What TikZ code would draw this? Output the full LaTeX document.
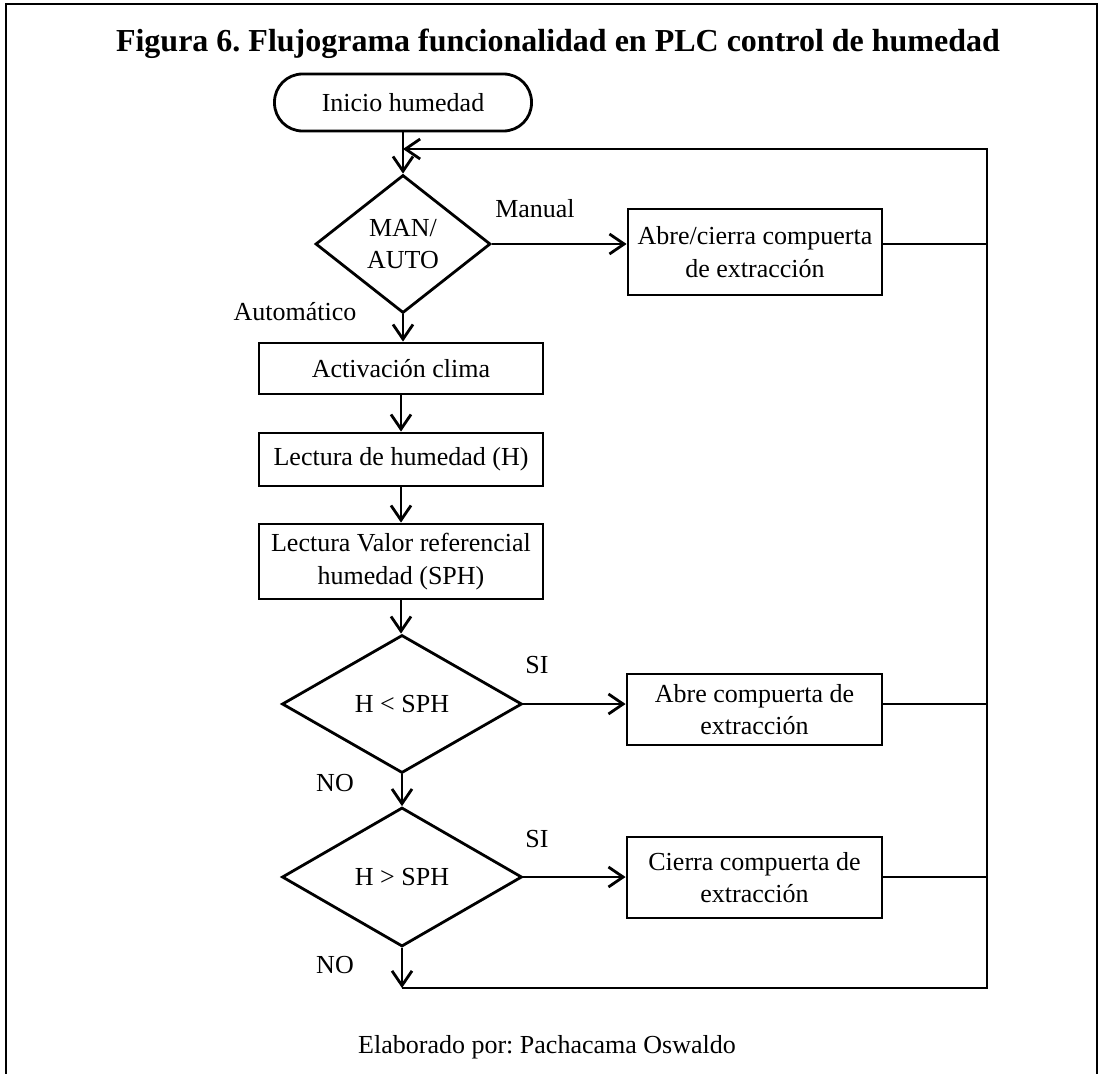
\documentclass[tikz,border=0pt]{standalone}
\usepackage{fontspec}
\setmainfont{Liberation Serif}
\usetikzlibrary{shapes.geometric,arrows.meta,calc}
\frenchspacing

\begin{document}
\begin{tikzpicture}[x=0.75pt,y=-0.75pt,
  line width=2.1pt,
  txt/.style={font=\fontsize{19.5}{24.5}\selectfont, align=center, inner sep=0pt},
  procbox/.style={txt, draw, rectangle},
  decision/.style={txt, draw, diamond, inner sep=0pt},
  terminal/.style={txt, draw, rectangle, rounded corners=21pt},
  lbl/.style={txt},
  flow/.style={-{Straight Barb[length=11pt,width=15pt,line width=2.1pt]}}
]
\useasboundingbox (0,0) rectangle (1099,1074);

% frame (open at the bottom)
\draw[line width=2.2pt] (6,1074) -- (6,4) -- (1097,4) -- (1097,1074);

% title
\node[anchor=base, inner sep=0pt, font=\fontsize{24}{28}\selectfont\bfseries] (title) at (558,52)
  {Figura 6. Flujograma funcionalidad en PLC control de humedad};

% main column
\node[terminal, minimum width=192.75pt, minimum height=42.75pt] (start) at (403,102.5) {Inicio humedad};
\node[decision, minimum width=131.25pt, minimum height=103.5pt] (d1) at (403,244) {MAN/\\AUTO};
\node[procbox, minimum width=213pt, minimum height=38.25pt] (b1) at (401,368.5) {Activación clima};
\node[procbox, minimum width=213pt, minimum height=39.75pt] (b2) at (401,459.5) {Lectura de humedad (H)};
\node[procbox, minimum width=213pt, minimum height=56.25pt] (b3) at (401,561.5) {Lectura Valor referencial\\humedad (SPH)};
\node[decision, minimum width=180pt, minimum height=103.5pt] (d2) at (402,704) {H < SPH};
\node[decision, minimum width=180pt, minimum height=104.25pt] (d3) at (402,877) {H > SPH};

% action boxes
\node[procbox, minimum width=190.5pt, minimum height=64.5pt] (r1) at (755,252) {Abre/cierra compuerta\\de extracción};
\node[procbox, minimum width=191.25pt, minimum height=53.25pt] (r2) at (754.5,709.5) {Abre compuerta de\\extracción};
\node[procbox, minimum width=191.25pt, minimum height=60.75pt] (r3) at (754.5,877.5) {Cierra compuerta de\\extracción};

% branch labels
\node[lbl] (lman) at (535,209) {Manual};
\node[lbl] (lauto) at (295,312) {Automático};
\node[lbl] (lsi1) at (537,665) {SI};
\node[lbl] (lno1) at (335,783) {NO};
\node[lbl] (lsi2) at (537,839) {SI};
\node[lbl] (lno2) at (335,965) {NO};

% return rail
\coordinate (rt) at (987,149);
\coordinate (rb) at (987,988);
\coordinate (endp) at (402,988);

% connectors (vertical ones kept straight)
\draw[flow] (start.south) -- (d1.north);
\draw[flow] (d1.east) -- (d1.east -| r1.west);
\draw[flow] (d1.south) -- (d1.south |- b1.north);
\draw[flow] (b1.south) -- (b2.north);
\draw[flow] (b2.south) -- (b3.north);
\draw[flow] (b3.south) -- (b3.south |- d2.north);
\draw[flow] (d2.east) -- (d2.east -| r2.west);
\draw[flow] (d2.south) -- (d3.north);
\draw[flow] (d3.east) -- (d3.east -| r3.west);
\draw[flow] (d3.south) -- (endp);

\draw (r1.east |- d1.east) -- (d1.east -| rt);
\draw (r2.east |- d2.east) -- (d2.east -| rt);
\draw (r3.east |- d3.east) -- (d3.east -| rt);
\draw[flow] (endp) -- (rb) -- (rt) -- (start.south |- rt);

% credit line
\node[lbl] (credit) at (547,1047) {Elaborado por: Pachacama Oswaldo};
\end{tikzpicture}
\end{document}
